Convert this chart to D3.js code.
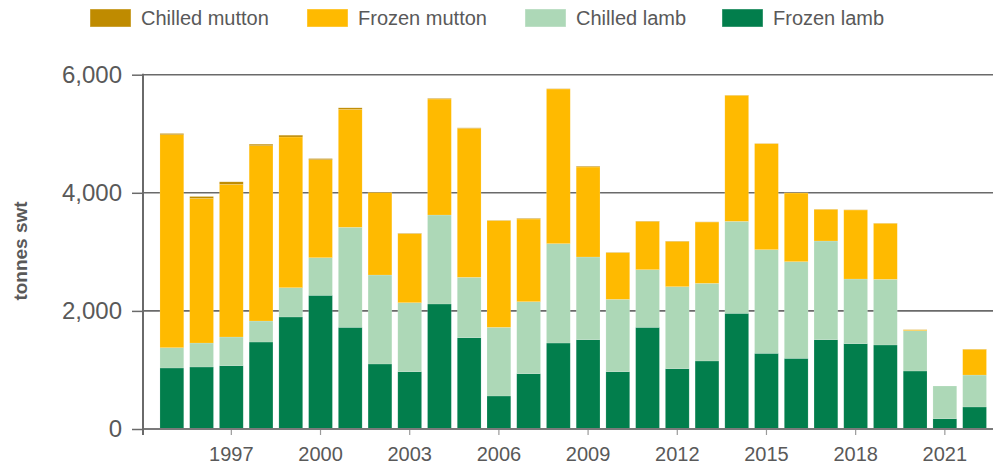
<!DOCTYPE html>
<html><head><meta charset="utf-8">
<script src="https://cdn.jsdelivr.net/npm/d3@7"></script>
<style>
html,body{margin:0;padding:0;background:#fff;}
svg{display:block;font-family:"Liberation Sans",Arial,sans-serif;}
</style></head>
<body><svg id="chart" width="993" height="467"></svg>
<script>
const years = d3.range(1995, 2023);
const xTickYears = [1997, 2000, 2003, 2006, 2009, 2012, 2015, 2018, 2021];
const yTicks = [0, 2000, 4000, 6000];
const seriesNames = ["Frozen lamb", "Chilled lamb", "Frozen mutton", "Chilled mutton"];
const legendOrder = ["Chilled mutton", "Frozen mutton", "Chilled lamb", "Frozen lamb"];
const colors = {"Chilled mutton":"#BF8B00","Frozen mutton":"#FFBA00","Chilled lamb":"#ADD8B7","Frozen lamb":"#027E4C"};

const frozenLamb   = [1033,1050,1073,1473,1897,2264,1722,1101,971,2117,1546,559,937,1456,1513,971,1722,1022,1152,1959,1282,1197,1513,1445,1423,982,175,373];
const chilledLamb  = [344,406,485,356,496,637,1694,1507,1168,1507,1023,1163,1219,1683,1400,1225,976,1388,1315,1558,1755,1637,1671,1095,1112,683,553,541];
const frozenMutton = [3607,2451,2586,2969,2552,1660,1998,1394,1168,1964,2523,1806,1400,2619,1524,790,819,768,1038,2134,1795,1163,536,1169,948,14,0,436];
const chilledMutton= [20,30,42,25,30,18,25,8,8,10,8,5,10,4,12,5,5,5,3,3,3,3,3,3,3,4,0,3];

const table = years.map((yr,i)=>({year:yr,"Frozen lamb":frozenLamb[i],"Chilled lamb":chilledLamb[i],"Frozen mutton":frozenMutton[i],"Chilled mutton":chilledMutton[i]}));

const svg = d3.select("#chart");
const mLeft = 143, mRight = 993, mTop = 74.7, mBottom = 429;
const x = d3.scaleBand().domain(years).range([157, 157 + 28*29.73]).paddingInner(0.2).paddingOuter(0.1);
const y = d3.scaleLinear().domain([0, 6000]).range([mBottom, mTop]);

// gridlines
svg.append("g").selectAll("line").data(yTicks.filter(d=>d>0)).join("line")
  .attr("x1", mLeft).attr("x2", mRight).attr("y1", d=>y(d)).attr("y2", d=>y(d))
  .attr("stroke", "#6a6a6a").attr("stroke-width", 1.6);

// bars
const stack = d3.stack().keys(seriesNames)(table);
svg.append("g").selectAll("g").data(stack).join("g")
  .attr("fill", d=>colors[d.key])
  .selectAll("rect").data(d=>d).join("rect")
  .attr("x", d=>x(d.data.year)).attr("width", x.bandwidth())
  .attr("y", d=>y(d[1])).attr("height", d=>Math.max(0, y(d[0])-y(d[1])))
  .attr("stroke", "#ffffff").attr("stroke-opacity", 0.25).attr("stroke-width", 0.6);

// x axis
const xAxis = svg.append("g").attr("transform", `translate(0,${mBottom})`)
  .call(d3.axisBottom(x).tickValues(xTickYears).tickSize(6).tickPadding(12).tickSizeOuter(0));
xAxis.select(".domain").remove();
xAxis.append("line").attr("x1", mLeft).attr("x2", mRight).attr("y1", 0).attr("y2", 0)
  .attr("stroke", "#7a7a7a").attr("stroke-width", 2);
xAxis.selectAll(".tick line").attr("stroke", "#9a9a9a").attr("stroke-width", 1.2);
xAxis.selectAll(".tick text").attr("fill", "#595959").attr("font-size", 20)
  .attr("font-family", "'Liberation Sans', Arial, sans-serif");

// y axis
const yAxis = svg.append("g").attr("transform", `translate(${mLeft},0)`)
  .call(d3.axisLeft(y).tickValues(yTicks).tickFormat(d3.format(",")).tickSize(11).tickPadding(10).tickSizeOuter(0));
yAxis.select(".domain").remove();
yAxis.append("line").attr("x1", 0).attr("x2", 0).attr("y1", mTop - 1).attr("y2", mBottom + 6)
  .attr("stroke", "#6a6a6a").attr("stroke-width", 2);
yAxis.selectAll(".tick line").attr("stroke", "#6a6a6a").attr("stroke-width", 1.5);
yAxis.selectAll(".tick text").attr("fill", "#595959").attr("font-size", 24)
  .attr("font-family", "'Liberation Sans', Arial, sans-serif");

// y title
svg.append("text").attr("transform", "translate(27,251) rotate(-90)")
  .attr("text-anchor", "middle").attr("font-size", 19).attr("font-weight", "bold")
  .attr("fill", "#595959").text("tonnes swt");

// legend
const legendX = [90, 307, 525, 722];
const lg = svg.append("g").selectAll("g").data(legendOrder).join("g")
  .attr("transform", (d,i)=>`translate(${legendX[i]},9)`);
lg.append("rect").attr("width", 41).attr("height", 18).attr("fill", d=>colors[d])
  .attr("stroke", "#ffffff").attr("stroke-opacity", 0.4);
lg.append("text").attr("x", 51).attr("y", 16).attr("font-size", 20).attr("fill", "#595959").text(d=>d);
</script></body></html>
